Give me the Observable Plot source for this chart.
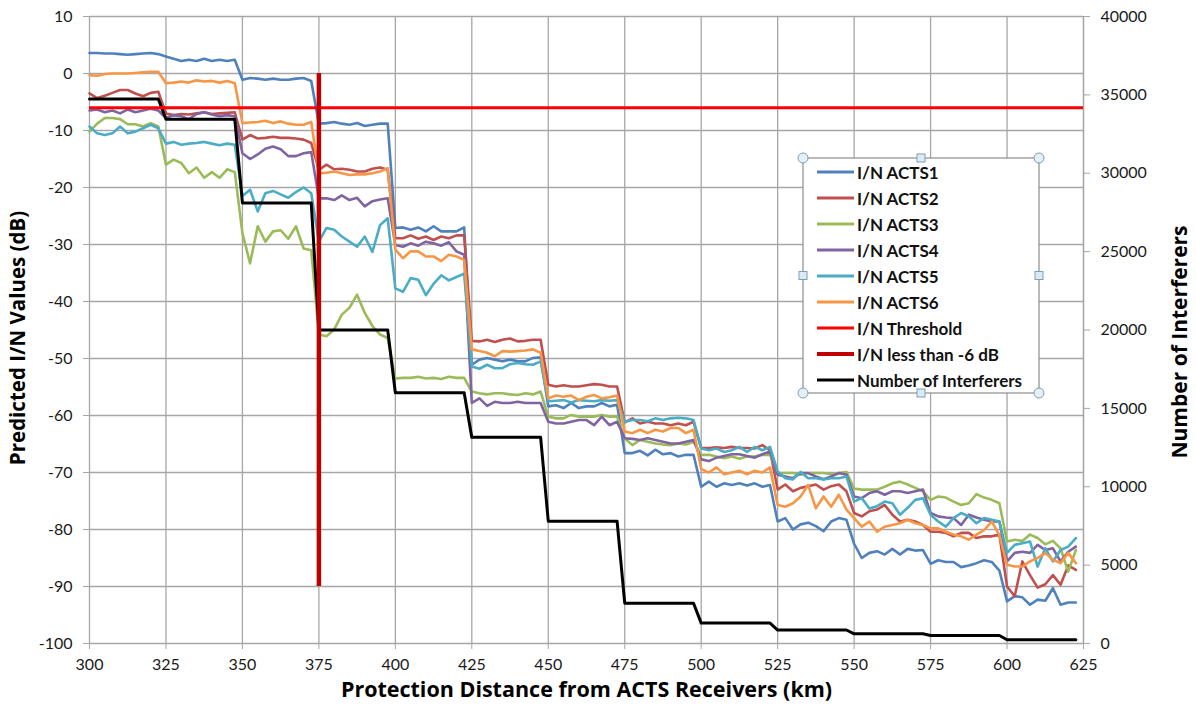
<!DOCTYPE html>
<html><head><meta charset="utf-8">
<script src="https://cdn.jsdelivr.net/npm/d3@7"></script>
<script src="https://cdn.jsdelivr.net/npm/@observablehq/plot@0.6"></script>
<style>
body{margin:0;background:#fff;}
#wrap{position:relative;width:1196px;height:707px;font-family:Lato,"Open Sans",sans-serif;}
#legend{position:absolute;left:0;top:0;pointer-events:none;}
</style></head><body><div id="wrap"></div>
<script>
// ---- data ----
const distances = d3.range(300, 623, 2.5); // km, 130 samples
const xTicks = [300,325,350,375,400,425,450,475,500,525,550,575,600,625];
const yTicks = [10,0,-10,-20,-30,-40,-50,-60,-70,-80,-90,-100];
const interfererTicks = [0,5000,10000,15000,20000,25000,30000,35000,40000];

const acts1 = [
 3.6,3.6,3.5,3.5,3.4,3.3,3.4,3.5,3.6,3.4,
 3.0,2.6,2.2,2.4,2.2,2.6,2.2,2.4,2.2,2.4,
 -1.1,-0.8,-0.9,-1.1,-0.9,-1.1,-1.1,-0.9,-0.8,-1.3,
 -8.8,-8.7,-8.5,-8.8,-9.0,-8.7,-9.2,-9.0,-8.8,-8.8,
 -27.1,-27.0,-27.4,-27.0,-27.7,-26.8,-27.7,-27.7,-27.7,-27.0,
 -51.1,-50.2,-49.9,-50.2,-50.5,-50.2,-50.5,-50.5,-49.9,-49.8,
 -58.4,-58.2,-58.7,-57.8,-58.7,-58.4,-58.4,-57.8,-58.4,-58.1,
 -66.6,-66.6,-66.2,-67.0,-66.0,-66.8,-66.6,-67.2,-66.9,-66.9,
 -72.5,-71.6,-72.5,-71.9,-72.2,-71.9,-72.3,-71.9,-72.5,-72.2,
 -78.6,-78.0,-80.0,-79.1,-78.8,-79.4,-80.3,-78.6,-78.0,-78.3,
 -82.5,-85.0,-84.1,-83.8,-84.4,-83.4,-84.4,-83.4,-83.7,-83.6,
 -86.0,-85.4,-85.7,-85.7,-86.6,-86.3,-85.9,-85.4,-85.7,-87.2,
 -92.6,-91.7,-91.9,-93.2,-92.3,-92.5,-90.3,-93.2,-92.8,-92.8];
const acts2 = [
 -3.5,-4.3,-3.9,-3.4,-2.9,-2.9,-3.5,-4.0,-3.4,-3.2,
 -7.0,-7.3,-7.1,-7.2,-7.0,-6.8,-7.1,-7.0,-6.9,-6.8,
 -11.6,-10.8,-11.4,-11.3,-11.1,-11.3,-11.3,-11.4,-11.6,-12.2,
 -16.9,-16.0,-16.8,-16.7,-16.9,-17.2,-17.2,-16.7,-16.5,-16.9,
 -28.9,-28.9,-28.4,-29.0,-28.6,-29.2,-28.6,-28.9,-28.4,-28.4,
 -46.9,-47.0,-46.7,-47.1,-46.7,-46.5,-47.0,-46.9,-46.7,-46.7,
 -54.6,-54.9,-54.7,-54.9,-54.9,-54.7,-54.5,-54.6,-54.9,-54.9,
 -61.2,-60.5,-61.4,-61.1,-61.4,-61.4,-61.7,-61.4,-61.7,-61.1,
 -65.7,-65.7,-65.6,-65.7,-65.5,-65.7,-65.7,-65.8,-65.2,-66.1,
 -73.0,-72.1,-73.3,-72.7,-72.4,-72.1,-73.0,-72.4,-72.1,-73.3,
 -77.1,-77.7,-76.8,-76.5,-75.7,-77.4,-78.6,-78.3,-78.6,-79.2,
 -80.4,-80.4,-80.6,-81.2,-80.6,-80.6,-81.5,-81.2,-81.2,-80.9,
 -90.0,-91.7,-85.6,-88.0,-90.2,-89.6,-88.0,-89.7,-86.3,-87.1];
const acts3 = [
 -10.2,-8.8,-7.8,-7.8,-8.0,-8.9,-8.9,-9.3,-8.7,-9.3,
 -16.0,-15.1,-15.7,-17.5,-16.5,-18.3,-17.3,-18.3,-16.8,-17.3,
 -28.0,-33.3,-26.8,-29.5,-27.7,-27.5,-29.0,-26.8,-30.7,-31.0,
 -45.8,-46.1,-44.9,-42.3,-41.1,-38.8,-42.0,-44.3,-45.8,-46.4,
 -53.5,-53.4,-53.4,-53.2,-53.5,-53.4,-53.6,-53.2,-53.4,-53.4,
 -55.8,-56.1,-56.3,-56.1,-56.1,-56.3,-56.4,-56.1,-56.3,-55.8,
 -60.2,-60.5,-60.5,-59.9,-60.2,-60.2,-60.2,-59.9,-60.2,-60.2,
 -64.0,-65.2,-64.3,-64.6,-64.9,-65.1,-65.2,-64.9,-65.1,-64.6,
 -66.9,-66.9,-67.2,-67.5,-67.2,-67.6,-67.2,-67.2,-66.9,-66.9,
 -70.1,-70.1,-70.1,-70.4,-70.1,-70.1,-70.1,-70.3,-70.1,-69.9,
 -72.8,-73.0,-73.0,-73.0,-72.5,-71.9,-71.6,-72.1,-72.7,-73.3,
 -74.8,-74.2,-74.4,-75.1,-75.7,-75.4,-73.8,-74.4,-74.8,-75.4,
 -82.1,-81.8,-82.0,-80.9,-81.5,-82.6,-82.0,-83.3,-87.4,-83.6];
const acts4 = [
 -6.5,-6.3,-6.8,-6.5,-7.0,-6.3,-6.8,-6.5,-6.2,-6.5,
 -7.8,-7.3,-7.5,-8.0,-7.1,-6.8,-7.2,-7.5,-7.3,-7.5,
 -14.0,-15.0,-14.2,-13.2,-12.8,-13.3,-14.5,-14.5,-14.0,-13.8,
 -21.9,-21.9,-22.2,-21.4,-22.2,-21.8,-23.3,-22.4,-22.1,-21.9,
 -30.1,-30.4,-29.8,-30.2,-29.5,-29.8,-30.2,-29.6,-31.2,-31.8,
 -57.8,-57.0,-58.3,-57.6,-57.8,-57.8,-57.6,-57.8,-57.8,-57.8,
 -61.1,-61.4,-61.4,-61.1,-60.8,-60.8,-61.7,-60.2,-61.7,-61.1,
 -64.0,-64.1,-64.3,-64.0,-64.3,-64.6,-64.9,-64.9,-64.6,-64.3,
 -67.7,-68.0,-67.4,-67.1,-66.8,-66.8,-67.1,-67.4,-66.8,-66.3,
 -70.4,-70.7,-71.0,-70.1,-70.1,-70.7,-71.2,-70.7,-70.1,-70.4,
 -74.2,-74.5,-73.6,-73.3,-73.9,-73.3,-73.3,-73.6,-73.3,-73.0,
 -77.1,-77.7,-77.9,-78.0,-79.2,-77.4,-77.9,-78.3,-78.6,-78.6,
 -85.6,-84.1,-83.9,-84.1,-82.7,-83.6,-83.3,-85.6,-83.9,-83.0];
const acts5 = [
 -9.3,-10.5,-10.8,-10.5,-9.3,-10.5,-10.2,-9.6,-9.0,-9.6,
 -12.3,-12.0,-12.5,-12.3,-12.2,-12.0,-12.3,-12.6,-12.3,-12.5,
 -21.5,-20.4,-24.2,-21.0,-20.6,-21.2,-21.8,-20.8,-20.0,-21.0,
 -29.5,-27.1,-27.4,-28.6,-29.5,-30.4,-28.6,-31.3,-26.6,-25.4,
 -37.7,-38.3,-35.9,-36.2,-38.9,-36.9,-35.4,-36.3,-35.7,-35.1,
 -51.4,-51.8,-51.1,-51.7,-51.7,-51.0,-50.8,-51.0,-51.1,-50.5,
 -57.5,-57.4,-57.3,-57.7,-57.3,-57.4,-57.5,-57.3,-57.4,-57.3,
 -61.1,-60.8,-60.8,-61.0,-60.5,-60.8,-60.5,-60.4,-60.5,-60.8,
 -65.8,-66.1,-65.8,-66.4,-66.1,-65.5,-66.4,-65.5,-66.1,-65.5,
 -69.8,-71.0,-71.2,-69.9,-71.0,-71.0,-71.2,-71.0,-71.0,-70.7,
 -75.1,-74.5,-76.3,-75.9,-75.1,-75.4,-77.4,-76.2,-74.8,-74.5,
 -77.4,-78.6,-79.5,-78.0,-77.1,-77.7,-78.9,-78.0,-78.3,-78.6,
 -84.1,-82.7,-82.4,-82.1,-86.5,-83.3,-85.6,-83.6,-83.0,-81.5];
const acts6 = [
 -0.3,-0.4,-0.1,0.0,0.0,0.0,0.1,0.2,0.3,0.3,
 -1.7,-1.6,-1.4,-1.6,-1.2,-1.4,-1.3,-1.6,-1.3,-1.7,
 -8.7,-8.6,-8.5,-8.3,-8.7,-8.4,-8.8,-9.0,-9.0,-8.5,
 -17.5,-17.4,-17.2,-17.5,-17.8,-17.7,-17.7,-17.5,-17.2,-16.6,
 -30.9,-32.4,-31.2,-31.2,-32.1,-32.1,-32.9,-31.8,-32.1,-32.7,
 -48.4,-48.7,-49.0,-49.6,-48.7,-48.8,-48.7,-48.6,-48.4,-49.0,
 -57.0,-56.5,-56.7,-56.5,-57.3,-56.7,-56.4,-57.0,-56.8,-56.5,
 -62.8,-63.1,-62.5,-63.1,-62.5,-62.8,-62.2,-62.2,-63.1,-62.5,
 -69.4,-70.0,-69.1,-70.3,-70.0,-69.7,-70.3,-69.7,-70.0,-69.1,
 -75.7,-76.0,-75.4,-74.2,-72.2,-76.3,-74.2,-76.0,-73.9,-76.5,
 -78.0,-79.5,-78.6,-80.4,-79.5,-79.2,-78.9,-78.3,-78.9,-79.2,
 -79.8,-79.8,-80.4,-80.9,-81.2,-81.8,-80.9,-80.1,-78.6,-81.0,
 -86.2,-86.5,-86.5,-85.6,-85.0,-84.1,-85.3,-85.9,-84.1,-85.9];

const stepStarts = [300,325,350,375,400,425,450,475,500,525,550,575,600];
const interferers = [34740,33440,28110,20000,16000,13150,7800,2570,1300,860,620,510,240];
const thresholdDb = -6;
const lessThanX = 375, lessThanTop = 0, lessThanBottom = -90;

const seriesNames = ["I/N ACTS1","I/N ACTS2","I/N ACTS3","I/N ACTS4","I/N ACTS5","I/N ACTS6"];
const seriesColors = ["#4F81BD","#C0504D","#9BBB59","#8064A2","#4BACC6","#F79646"];
const legendNames = [...seriesNames, "I/N Threshold", "I/N less than -6 dB", "Number of Interferers"];
const legendColors = [...seriesColors, "#FF0000", "#C00000", "#000000"];
const legendWidths = [3,3,3,3,3,3,3,4,3];

// secondary (right) axis 0..40000 shares the frame with -100..10 dB
const toDb = c => c / 40000 * 110 - 100;
const fromDb = d => Math.round((d + 100) / 110 * 40000);

const allSeries = [acts1, acts2, acts3, acts4, acts5, acts6];
const lineMarks = allSeries.map((vals, i) =>
  Plot.line(distances.map((x, j) => ({x, y: vals[j]})),
    {x: "x", y: "y", stroke: seriesColors[i], strokeWidth: 2.6, strokeLinejoin: "round"}));

const stepRows = stepStarts.flatMap((s, i) => [{x: s, y: toDb(interferers[i])}, {x: s + 22.5, y: toDb(interferers[i])}]);

const titleFont = "'Open Sans', Lato, sans-serif";
const chart = Plot.plot({
  width: 1196, height: 707,
  marginLeft: 89, marginRight: 113, marginTop: 16, marginBottom: 64,
  style: {fontFamily: "Lato, 'Open Sans', sans-serif", fontSize: "16px", color: "#1a1a1a", background: "white", overflow: "visible"},
  x: {domain: [300, 625]},
  y: {domain: [-100, 10]},
  marks: [
    Plot.gridX(xTicks, {stroke: "#a6a6a6", strokeOpacity: 1, strokeWidth: 1.3}),
    Plot.gridY(yTicks, {stroke: "#a6a6a6", strokeOpacity: 1, strokeWidth: 1.3}),
    Plot.ruleX([625], {stroke: "#a6a6a6", strokeWidth: 1.3}),
    ...lineMarks,
    Plot.line(stepRows, {x: "x", y: "y", stroke: "#000", strokeWidth: 3, strokeLinejoin: "round"}),
    Plot.ruleY([thresholdDb], {stroke: "#FF0000", strokeWidth: 3}),
    Plot.ruleX([lessThanX], {y1: lessThanTop, y2: lessThanBottom, stroke: "#C00000", strokeWidth: 4.5}),
    Plot.axisX(xTicks, {anchor: "bottom", tickSize: 6, tickPadding: 9, stroke: "#a6a6a6", label: null, tickFormat: d => String(d)}),
    Plot.axisY(yTicks, {anchor: "left", tickSize: 6, tickPadding: 11, stroke: "#a6a6a6", label: null, tickFormat: d => String(d)}),
    Plot.axisY(interfererTicks.map(toDb), {anchor: "right", tickSize: 6, tickPadding: 11, stroke: "#a6a6a6", label: null, tickFormat: d => String(fromDb(d))}),
    Plot.text(["Predicted I/N Values (dB)"], {frameAnchor: "left", dx: -71, dy: 8, rotate: -90, textAnchor: "middle", lineAnchor: "middle", fontWeight: "bold", fontSize: 20.5, fontFamily: titleFont, fill: "#000"}),
    Plot.text(["Number of Interferers"], {frameAnchor: "right", dx: 97, dy: 12, rotate: -90, textAnchor: "middle", lineAnchor: "middle", fontWeight: "bold", fontSize: 21, fontFamily: titleFont, fill: "#000"}),
    Plot.text(["Protection Distance from ACTS Receivers (km)"], {frameAnchor: "bottom", dy: 47, textAnchor: "middle", lineAnchor: "middle", fontWeight: "bold", fontSize: 21.5, fontFamily: titleFont, fill: "#000"})
  ]
});
document.getElementById("wrap").appendChild(chart);

// legend overlay (inside plot area, like the original)
const L = {x0: 803, y0: 158, x1: 1039, y1: 393};
const svg = d3.select("#wrap").append("svg").attr("id", "legend").attr("width", 1196).attr("height", 707);
svg.append("rect").attr("x", L.x0).attr("y", L.y0).attr("width", L.x1 - L.x0).attr("height", L.y1 - L.y0)
  .attr("fill", "#fff").attr("stroke", "#8c8c8c").attr("stroke-width", 1.2);
legendNames.forEach((name, i) => {
  const cy = 172 + i * 26;
  svg.append("line").attr("x1", 817).attr("x2", 854).attr("y1", cy).attr("y2", cy)
    .attr("stroke", legendColors[i]).attr("stroke-width", legendWidths[i]);
  svg.append("text").attr("x", 857).attr("y", cy).attr("dominant-baseline", "central")
    .attr("font-family", "Lato, 'Open Sans', sans-serif").attr("font-weight", "bold").attr("font-size", 17)
    .attr("fill", "#111").text(name);
});
const corners = [[L.x0, L.y0], [L.x1, L.y0], [L.x0, L.y1], [L.x1, L.y1]];
corners.forEach(([x, y]) => svg.append("circle").attr("cx", x).attr("cy", y).attr("r", 5)
  .attr("fill", "#e4f0f6").attr("stroke", "#7f9fb3").attr("stroke-width", 1));
const mids = [[(L.x0 + L.x1) / 2, L.y0], [(L.x0 + L.x1) / 2, L.y1], [L.x0, (L.y0 + L.y1) / 2], [L.x1, (L.y0 + L.y1) / 2]];
mids.forEach(([x, y]) => svg.append("rect").attr("x", x - 4).attr("y", y - 4).attr("width", 8).attr("height", 8)
  .attr("fill", "#dceaf5").attr("stroke", "#7f9fb3").attr("stroke-width", 1));
</script></body></html>
